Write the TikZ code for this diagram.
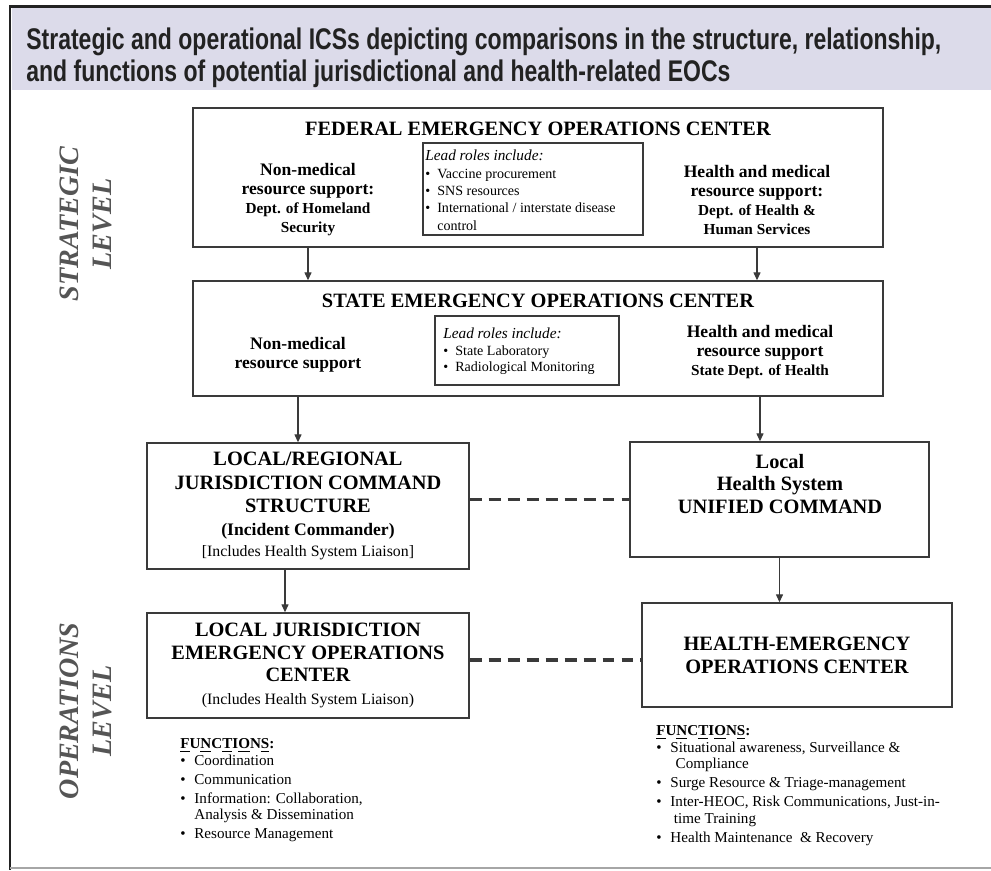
\documentclass[tikz,border=0pt]{standalone}
\usepackage{fontspec}
\setmainfont{Liberation Serif}
\newfontfamily\headfont[FakeStretch=0.77]{Liberation Sans}
\usetikzlibrary{arrows.meta}
\definecolor{bandfill}{HTML}{DCDBEA}
\definecolor{boxline}{HTML}{3A3A3A}
\definecolor{levelgray}{HTML}{555555}
\definecolor{headtext}{HTML}{222222}
\newcommand{\fsz}[2]{\fontsize{#1}{#2}\selectfont}

\begin{document}
\begin{tikzpicture}[x=0.02cm, y=-0.02cm,
    box/.style={draw=boxline, line width=0.85pt, inner sep=0pt},
    title/.style={font=\fsz{11.6}{13}\bfseries, align=center},
    support/.style={font=\fsz{10}{10.8}\bfseries, align=center},
    arr/.style={draw=boxline, line width=0.6pt, -{Triangle[length=4.5pt,width=4pt]}},
    link/.style={draw=boxline, line width=1.9pt, dash pattern=on 6.8pt off 4pt},
    level/.style={font=\fsz{16}{18.7}\bfseries\itshape, text=levelgray, rotate=90, align=center}]
  \useasboundingbox (0,0) rectangle (991,870);

  % header band and frame
  \fill[bandfill] (12,8) rectangle (991,90);
  \draw[line width=1.7pt, headtext] (991,6) -- (10,6) -- (10,870);
  \draw[line width=0.6pt, gray!70] (10,868) -- (991,868);
  \node (head) at (26,27) [anchor=north west, inner sep=0pt, align=left, text=headtext, font=\headfont\fsz{17}{18.6}\bfseries]
    {Strategic and operational ICSs depicting comparisons in the structure, relationship,\\and functions of potential jurisdictional and health-related EOCs};

  % level labels
  \node (stratlvl) at (86,224) [level] {STRATEGIC\\LEVEL};
  \node (opslvl) at (86,711) [level] {OPERATIONS\\LEVEL};

  % federal
  \node (fed) at (538,177.5) [box, minimum width=13.8cm, minimum height=2.78cm] {};
  \node (fedtitle) at (538,129) [title] {FEDERAL EMERGENCY OPERATIONS CENTER};
  \node (fednm) at (308,200) [support] {Non-medical\\resource support:\\{\fsz{8.7}{10.8}Dept. of Homeland}\\{\fsz{8.7}{10.8}Security}};
  \node (fedhm) at (757,200) [support] {Health and medical\\resource support:\\{\fsz{8.7}{10.8}Dept. of Health \&}\\{\fsz{8.7}{10.8}Human Services}};
  \node (fedlead) at (533,189) [box, minimum width=4.4cm, minimum height=1.84cm] {};
  \node (fedroles) at (425,192) [anchor=west, inner sep=0pt, font=\fsz{8}{9.9}] {\begin{tabular}{@{}l@{\hspace{4pt}}l@{}}
    \multicolumn{2}{@{}l}{\fsz{8.7}{9.9}\itshape Lead roles include:}\\
    \textbullet & Vaccine procurement\\
    \textbullet & SNS resources\\
    \textbullet & International / interstate disease\\
     & control
  \end{tabular}};

  % state
  \node (state) at (538,338.5) [box, minimum width=13.8cm, minimum height=2.3cm] {};
  \node (statetitle) at (538,301) [title] {STATE EMERGENCY OPERATIONS CENTER};
  \node (statenm) at (298,355) [support] {Non-medical\\resource support};
  \node (statehm) at (760,352) [support] {Health and medical\\resource support\\{\fsz{8.7}{10.8}State Dept. of Health}};
  \node (statelead) at (527,350.5) [box, minimum width=3.68cm, minimum height=1.38cm] {};
  \node (stateroles) at (443,352) [anchor=west, inner sep=0pt, font=\fsz{8}{9.4}] {\begin{tabular}{@{}l@{\hspace{4pt}}l@{}}
    \multicolumn{2}{@{}l}{\fsz{8.7}{9.9}\itshape Lead roles include:}\\
    \textbullet & State Laboratory\\
    \textbullet & Radiological Monitoring
  \end{tabular}};

  % local command level
  \node (localreg) at (308,506) [box, minimum width=6.44cm, minimum height=2.52cm, title]
    {LOCAL/REGIONAL\\[0.8pt]JURISDICTION COMMAND\\STRUCTURE\\{\fsz{10}{13}(Incident Commander)}\\[-1pt]{\fsz{9}{13}\mdseries [Includes Health System Liaison]}};
  \node (lhs) at (779.5,499.5) [box, minimum width=5.98cm, minimum height=2.3cm] {};
  \node (lhstext) at (780,484) [title] {Local\\Health System\\UNIFIED COMMAND};

  % operations level
  \node (ljeoc) at (308,665.5) [box, minimum width=6.44cm, minimum height=2.1cm, title]
    {LOCAL JURISDICTION\\EMERGENCY OPERATIONS\\CENTER\\{\fsz{9}{13}\mdseries (Includes Health System Liaison)}};
  \node (heoc) at (797,655) [box, minimum width=6.2cm, minimum height=2.08cm, title]
    {HEALTH-EMERGENCY\\OPERATIONS CENTER};

  % connectors
  \draw[arr] (fed.south -| fednm) -- (state.north -| fednm);
  \draw[arr] (fed.south -| fedhm) -- (state.north -| fedhm);
  \draw[arr] (state.south -| statenm) -- (localreg.north -| statenm);
  \draw[arr] (state.south -| statehm) -- (lhs.north -| statehm);
  \draw[link] (localreg.east |- lhs.west) -- (lhs.west);
  \draw[arr] ([xshift=-0.46cm]localreg.south) -- ([xshift=-0.46cm]localreg.south |- ljeoc.north);
  \draw[arr] (lhs.south) -- (lhs.south |- heoc.north);
  \draw[link] ([yshift=0.11cm]ljeoc.east) -- ([yshift=0.11cm]ljeoc.east -| heoc.west);

  % functions
  \node (locfunc) at (180,737) [anchor=north west, inner sep=0pt, font=\fsz{8.6}{9.4}] {\begin{tabular}{@{}l@{\hspace{5pt}}l@{}}
    \multicolumn{2}{@{}l}{\bfseries\underline{F}U\underline{N}C\underline{T}I\underline{O}N\underline{S}:}\\
    \textbullet & Coordination\\[1.4pt]
    \textbullet & Communication\\[1.4pt]
    \textbullet & Information: Collaboration,\\
     & Analysis \& Dissemination\\[1.4pt]
    \textbullet & Resource Management
  \end{tabular}};
  \node (heocfunc) at (656,724) [anchor=north west, inner sep=0pt, font=\fsz{8.6}{9.4}] {\begin{tabular}{@{}l@{\hspace{5pt}}l@{}}
    \multicolumn{2}{@{}l}{\bfseries\underline{F}U\underline{N}C\underline{T}I\underline{O}N\underline{S}:}\\
    \textbullet & Situational awareness, Surveillance \&\\
     & \hspace{3pt}Compliance\\[1.4pt]
    \textbullet & Surge Resource \& Triage-management\\[1.4pt]
    \textbullet & Inter-HEOC, Risk Communications, Just-in-\\
     & \hspace{2pt}time Training\\[1.4pt]
    \textbullet & Health Maintenance\ \ \& Recovery
  \end{tabular}};
\end{tikzpicture}
\end{document}
